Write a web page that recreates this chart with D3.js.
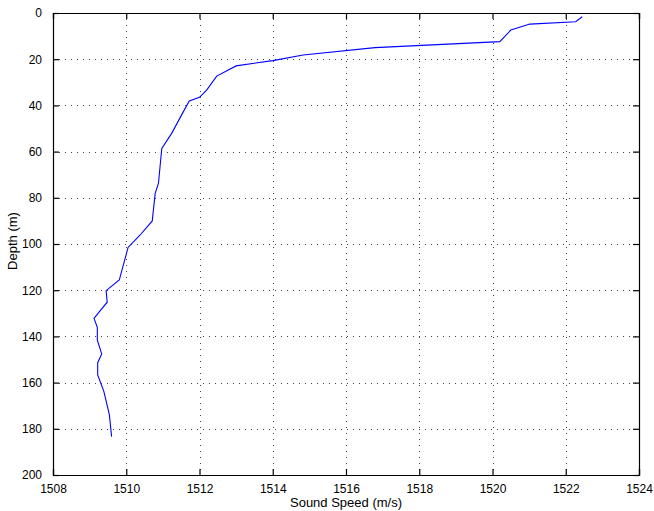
<!DOCTYPE html>
<html>
<head>
<meta charset="utf-8">
<script src="https://cdn.jsdelivr.net/npm/d3@7"></script>
<style>
  body { margin: 0; background: #fff; }
  .chart text { font-family: "Liberation Sans", Arial, sans-serif; fill: #000; }
</style>
</head>
<body>
<div class="chart"></div>
<script>
var margin = {top: 13, right: 15, bottom: 36, left: 53};
var width = 654 - margin.left - margin.right;
var height = 511 - margin.top - margin.bottom;

// sound speed profile
let soundSpeed = [1522.45, 1522.27, 1521.02, 1520.50, 1520.20, 1516.79, 1514.83, 1514.0,
  1513.0, 1512.47, 1512.2, 1512.0, 1511.72, 1511.56, 1511.24, 1510.97, 1510.88, 1510.79,
  1510.71, 1510.38, 1510.05, 1509.81, 1509.45, 1509.48, 1509.30, 1509.12, 1509.21, 1509.21,
  1509.33, 1509.22, 1509.22, 1509.39, 1509.54, 1509.60];
let depth = [1.6, 3.8, 4.8, 7.4, 12.4, 15.0, 18.2, 20.6,
  22.9, 27.3, 33.3, 36.5, 38.1, 42.7, 52.1, 58.6, 73.7, 78.1,
  90.0, 96.1, 101.5, 115.6, 120.2, 125.2, 128.6, 132.2, 136.1, 141.6,
  147.6, 151.4, 156.7, 163.9, 174.0, 183.4];

let xTicks = [1508, 1510, 1512, 1514, 1516, 1518, 1520, 1522, 1524];
let yTicks = [0, 20, 40, 60, 80, 100, 120, 140, 160, 180, 200];

let data = soundSpeed.map((s, i) => ({speed: s, depth: depth[i]}));

let svg = d3.select('.chart')
  .append('svg')
  .attr('width', width + margin.left + margin.right)
  .attr('height', height + margin.top + margin.bottom)
  .append('g')
  .attr('transform', `translate(${margin.left}, ${margin.top})`);

let xScale = d3.scaleLinear()
  .domain([1508, 1524])
  .range([0, width]);

let yScale = d3.scaleLinear()
  .domain([0, 200])
  .range([0, height]);

// dotted grid
let grid = svg.append('g')
  .style('stroke', '#444')
  .style('stroke-width', 1)
  .style('stroke-dasharray', '1,5');

grid.selectAll('.vgrid')
  .data(xTicks.slice(1, -1))
  .enter()
  .append('line')
  .attr('x1', d => Math.round(xScale(d)) + 0.5)
  .attr('x2', d => Math.round(xScale(d)) + 0.5)
  .attr('y1', 0)
  .attr('y2', height);

grid.selectAll('.hgrid')
  .data(yTicks.slice(1, -1))
  .enter()
  .append('line')
  .attr('y1', d => Math.round(yScale(d)) + 0.5)
  .attr('y2', d => Math.round(yScale(d)) + 0.5)
  .attr('x1', 0)
  .attr('x2', width);

// profile line
let line = d3.line()
  .x(d => xScale(d.speed))
  .y(d => yScale(d.depth));

svg.append('path')
  .datum(data)
  .attr('d', line)
  .style('fill', 'none')
  .style('stroke', '#0000ff')
  .style('stroke-width', 1.1);

// axes with inward ticks on all four sides
let tickLen = 6;

let xAxis = d3.axisBottom(xScale)
  .tickValues(xTicks)
  .tickSize(-tickLen)
  .tickPadding(tickLen + 3)
  .tickFormat(d3.format('d'));

let xAxisG = svg.append('g')
  .attr('transform', `translate(0, ${height})`)
  .call(xAxis);

let yAxis = d3.axisLeft(yScale)
  .tickValues(yTicks)
  .tickSize(-tickLen)
  .tickPadding(tickLen + 5);

let yAxisG = svg.append('g')
  .call(yAxis);

let xTop = svg.append('g')
  .call(d3.axisTop(xScale).tickValues(xTicks).tickSize(-tickLen).tickFormat(''));

let yRight = svg.append('g')
  .attr('transform', `translate(${width}, 0)`)
  .call(d3.axisRight(yScale).tickValues(yTicks).tickSize(-tickLen).tickFormat(''));

svg.selectAll('.domain')
  .style('stroke', '#000')
  .style('stroke-width', 1.2);

svg.selectAll('.tick line')
  .style('stroke', '#000')
  .style('stroke-width', 1.2);

svg.selectAll('.tick text')
  .style('font-size', '12px')
  .style('font-family', '"Liberation Sans", Arial, sans-serif');

// axis titles
svg.append('text')
  .attr('x', width / 2)
  .attr('y', height + 32)
  .style('text-anchor', 'middle')
  .style('font-size', '13px')
  .text('Sound Speed (m/s)');

svg.append('text')
  .attr('transform', `translate(${-53 + 17}, ${height / 2 - 3}) rotate(-90)`)
  .style('text-anchor', 'middle')
  .style('font-size', '13px')
  .text('Depth (m)');
</script>
</body>
</html>
